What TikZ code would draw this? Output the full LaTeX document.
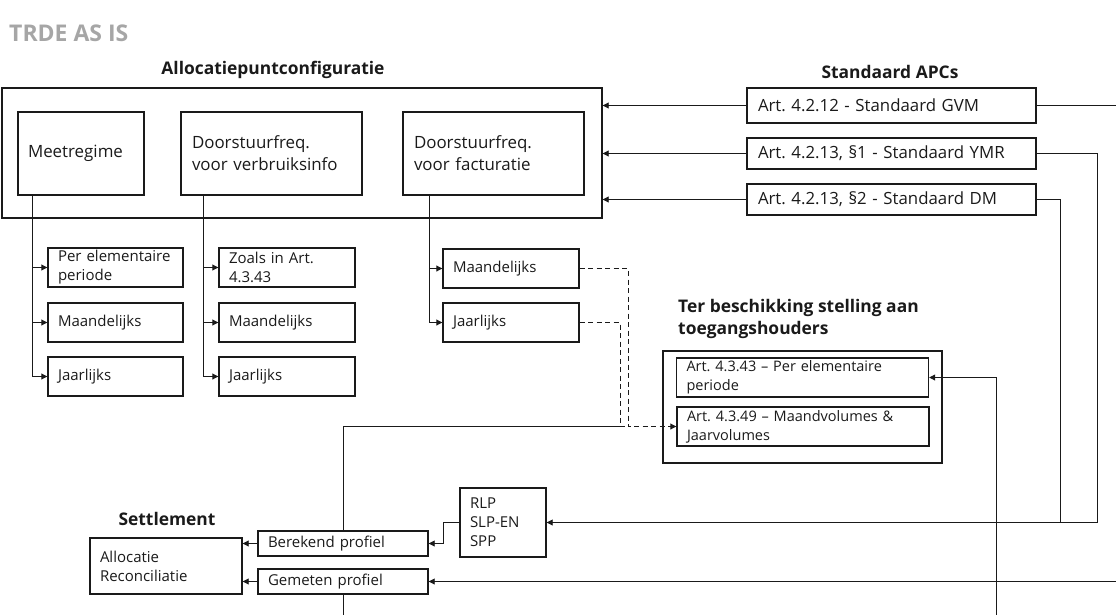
\documentclass[tikz,border=0pt]{standalone}
\usepackage{fontspec}
\setmainfont{Open Sans}
\usetikzlibrary{arrows.meta,calc}
\definecolor{ink}{HTML}{1A1A1A}
\definecolor{titlegray}{HTML}{A6A6A6}
\frenchspacing
\tikzset{
  bx/.style={draw=ink, line width=1.4pt, inner ysep=0pt, align=left, text=ink},
  big/.style={font=\frenchspacing\fontsize{16.9}{22}\selectfont},
  mid/.style={font=\frenchspacing\fontsize{16.8}{20}\selectfont},
  small/.style={font=\frenchspacing\fontsize{15}{19}\selectfont},
  tiny/.style={font=\frenchspacing\fontsize{14.5}{19}\selectfont},
  head/.style={font=\bfseries\fontsize{17.4}{22}\selectfont, text=ink},
  conn/.style={draw=ink, line width=0.9pt},
  arr/.style={conn, -{Triangle[length=6pt,width=6pt]}},
  dsh/.style={dash pattern=on 5pt off 3.5pt}
}
\begin{document}
\begin{tikzpicture}[x=1pt,y=-1pt]
\useasboundingbox (0,0) rectangle (1116,615);
% title and headings
\node[anchor=west, font=\bfseries\fontsize{23}{26}\selectfont, text=titlegray, inner sep=0] (title) at (9,33) {TRDE AS IS};
\node[head, inner sep=0] (hapc) at (273,70) {Allocatiepuntconfiguratie};
\node[head, inner sep=0] (hstd) at (890,72) {Standaard APCs};
\node[head, inner sep=0, anchor=north west, align=left] (htbs) at (678,299) {Ter beschikking stelling aan\\toegangshouders};
\node[head, inner sep=0] (hset) at (167,519) {Settlement};
% APC outer
\node[bx, minimum width=600pt, minimum height=130pt, inner xsep=0pt] (apc) at (302,153) {};
\node[bx, big, inner xsep=10pt, text width=106pt, minimum height=83pt] (meet) at (81,153.5) {Meetregime};
\node[bx, big, inner xsep=11pt, text width=159pt, minimum height=83pt] (verb) at (271.5,153.5) {Doorstuurfreq.\\voor verbruiksinfo};
\node[bx, big, inner xsep=11pt, text width=159pt, minimum height=83pt] (fact) at (493.5,153.5) {Doorstuurfreq.\\voor facturatie};
% standard APCs
\node[bx, mid, inner xsep=11pt, text width=267pt, minimum height=35pt] (gvm) at (891.5,105.5) {Art. 4.2.12 - Standaard GVM};
\node[bx, mid, inner xsep=11pt, text width=267pt, minimum height=31pt] (ymr) at (891.5,153.5) {Art. 4.2.13, §1 - Standaard YMR};
\node[bx, mid, inner xsep=11pt, text width=267pt, minimum height=31pt] (dm) at (891.5,199.5) {Art. 4.2.13, §2 - Standaard DM};
% children
\node[bx, small, inner xsep=10pt, text width=115pt, minimum height=39pt] (m1) at (115.5,267.5) {Per elementaire\\periode};
\node[bx, small, inner xsep=10pt, text width=115pt, minimum height=39pt] (m2) at (115.5,322.5) {Maandelijks};
\node[bx, small, inner xsep=10pt, text width=115pt, minimum height=39pt] (m3) at (115.5,376.5) {Jaarlijks};
\node[bx, small, inner xsep=10pt, text width=116pt, minimum height=39pt] (v1) at (287,267.5) {Zoals in Art.\\4.3.43};
\node[bx, small, inner xsep=10pt, text width=116pt, minimum height=39pt] (v2) at (287,322.5) {Maandelijks};
\node[bx, small, inner xsep=10pt, text width=116pt, minimum height=39pt] (v3) at (287,376.5) {Jaarlijks};
\node[bx, small, inner xsep=10pt, text width=116pt, minimum height=39pt] (f1) at (511,268.5) {Maandelijks};
\node[bx, small, inner xsep=10pt, text width=116pt, minimum height=39pt] (f2) at (511,322.5) {Jaarlijks};
% TBS
\node[bx, minimum width=279pt, minimum height=112pt, inner xsep=0pt] (tbs) at (802.5,407) {};
\node[bx, tiny, inner xsep=10pt, text width=232pt, minimum height=39pt] (a43) at (802.5,377.5) {Art. 4.3.43 – Per elementaire\\periode};
\node[bx, tiny, inner xsep=10pt, text width=232pt, minimum height=39pt] (a49) at (803,426.5) {Art. 4.3.49 – Maandvolumes \&\\Jaarvolumes};
% settlement side
\node[bx, small, inner xsep=10pt, text width=66pt, minimum height=69pt] (rlp) at (503,522.5) {RLP\\SLP-EN\\SPP};
\node[bx, small, inner xsep=10pt, text width=150pt, minimum height=25pt] (ber) at (343,543.5) {Berekend profiel};
\node[bx, small, inner xsep=10pt, text width=150pt, minimum height=25pt] (gem) at (343,581.5) {Gemeten profiel};
\node[bx, small, inner xsep=10pt, text width=132pt, minimum height=56pt] (alloc) at (166,566) {Allocatie\\Reconciliatie};
% coordinates
\coordinate (gvmout) at (1116,105.5);
\coordinate (jy) at (1097,522.5);
\coordinate (jdm) at (1060,522.5);
\coordinate (gemin) at (1116,581.5);
\coordinate (gemout) at (343,615);
\coordinate (a43in) at (996,615);
\coordinate (jd) at (620,426.5);
\coordinate (jm) at (628,426.5);
% connectors: children
\foreach \c in {m1,m2,m3} \draw[arr] ([xshift=15pt]meet.south west) |- (\c.west);
\foreach \c in {v1,v2,v3} \draw[arr] ([xshift=23pt]verb.south west) |- (\c.west);
\foreach \c in {f1,f2} \draw[arr] ([xshift=27pt]fact.south west) |- (\c.west);
% standard APCs to APC box
\foreach \c in {gvm,ymr,dm} \draw[arr] (\c.west) -- (\c.west -| apc.east);
\draw[conn] (gvm.east) -- (gvmout);
\draw[arr] (ymr.east) -| (jy) -- (rlp.east);
\draw[conn] (dm.east) -| (jdm);
\draw[arr] (rlp.west) -- ++(-16,0) |- (ber.east);
\draw[arr] (gemin) -- (gem.east);
\draw[arr] (ber.west) -- (ber.west -| alloc.east);
\draw[arr] (gem.west) -- (gem.west -| alloc.east);
\draw[conn] (ber.north) |- (jd);
\draw[conn] (gem.south) -- (gemout);
\draw[arr] (a43in) |- (a43.east);
% dashed
\draw[arr, dsh] (f1.east) -| (jm) -- (a49.west);
\draw[conn, dsh] (f2.east) -| (jd) -- (jm);
\end{tikzpicture}
\end{document}
